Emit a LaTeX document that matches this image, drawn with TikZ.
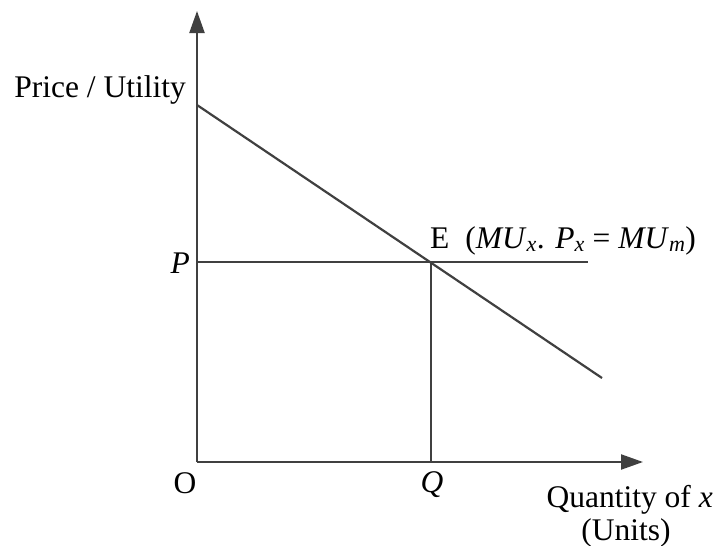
\documentclass[tikz,border=0pt]{standalone}
\usepackage{fontspec}
\setmainfont{Liberation Serif}
\usetikzlibrary{arrows.meta}
\begin{document}
\begin{tikzpicture}[x=1pt,y=-1pt,
    axis/.style={line width=2.2pt,draw=black!75,-{Triangle[length=22pt,width=15pt]}},
    curve/.style={line width=2.2pt,draw=black!75},
    lbl/.style={inner sep=0pt,font=\fontsize{31.5}{36}\selectfont}]
  \useasboundingbox (0,0) rectangle (713,546);
  \coordinate (O) at (197,462);
  \coordinate (ytop) at (197,11);
  \coordinate (xend) at (643,462);
  \coordinate (d1) at (197,105);
  \coordinate (d2) at (602,378);
  \coordinate (p) at (197,262);
  \coordinate (pend) at (588,262);
  \coordinate (E) at (431,262);
  \coordinate (q) at (431,462);
  % axes
  \draw[axis] (O) -- (ytop);
  \draw[axis] (O) -- (xend);
  % demand line, price line, quantity
  \draw[curve] (d1) -- (d2);
  \draw[curve] (p) -- (pend);
  \draw[curve] (E) -- (q);
  % labels
  \node[lbl,anchor=base east] (ylab) at (186,97) {Price / Utility};
  \node[lbl,anchor=base east] (plab) at (190,273) {\textit{P}};
  \node[lbl,anchor=base] (olab) at (185,493) {O};
  \node[lbl,anchor=base] (qlab) at (432,492) {\textit{Q}};
  \node[lbl,anchor=base east] (xlab) at (713,507) {Quantity of \textit{x}};
  \node[lbl,anchor=base] (ulab) at (626,540) {(Units)};
  \node[lbl,anchor=base west] (elab) at (430,248)
    {E\hspace{16pt}(\textit{MU}\textsubscript{\textit{x}}. \textit{P}\textsubscript{\textit{x}} = \textit{MU}\textsubscript{\textit{m}})};
\end{tikzpicture}
\end{document}
